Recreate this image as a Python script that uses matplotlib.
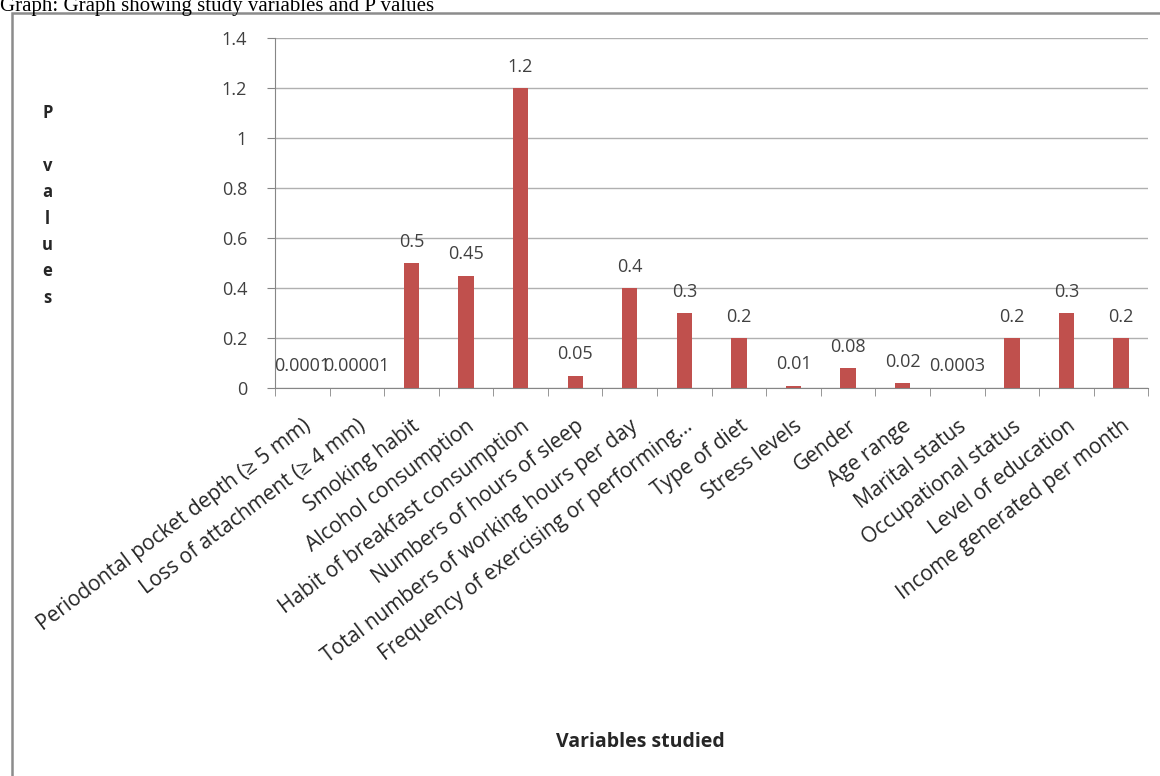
import numpy as np
import matplotlib.pyplot as plt
from matplotlib.patches import Rectangle

# study variables and their P values
variables = [
    "Periodontal pocket depth (\u2265 5 mm)",
    "Loss of attachment (\u2265 4 mm)",
    "Smoking habit",
    "Alcohol consumption",
    "Habit of breakfast consumption",
    "Numbers of hours of sleep",
    "Total numbers of working hours per day",
    "Frequency of exercising or performing\u2026",
    "Type of diet",
    "Stress levels",
    "Gender",
    "Age range",
    "Marital status",
    "Occupational status",
    "Level of education",
    "Income generated per month",
]
p_values = [0.0001, 0.00001, 0.5, 0.45, 1.2, 0.05, 0.4, 0.3, 0.2,
            0.01, 0.08, 0.02, 0.0003, 0.2, 0.3, 0.2]
p_labels = ["0.0001", "0.00001", "0.5", "0.45", "1.2", "0.05", "0.4", "0.3",
            "0.2", "0.01", "0.08", "0.02", "0.0003", "0.2", "0.3", "0.2"]
y_ticks = [0, 0.2, 0.4, 0.6, 0.8, 1, 1.2, 1.4]
y_tick_labels = ["0", "0.2", "0.4", "0.6", "0.8", "1", "1.2", "1.4"]

plt.rcParams['font.family'] = ['Open Sans', 'DejaVu Sans']

fig = plt.figure(figsize=(11.6, 7.76), dpi=100)
ax = fig.add_axes([0.237, 0.5, 0.753, 0.451])

x = np.arange(len(variables))
ax.bar(x, p_values, width=0.28, color="#C0504D", zorder=3)

for xi, v, lab in zip(x, p_values, p_labels):
    ax.annotate(lab, (xi, v), xytext=(0, 9), textcoords="offset points",
                ha="center", va="bottom", fontsize=13, color="#404040",
                zorder=4)

ax.set_xlim(-0.5, len(variables) - 0.5)
ax.set_ylim(0, 1.4)
ax.set_yticks(y_ticks)
ax.set_yticklabels(y_tick_labels, fontsize=13, color="#404040")
ax.yaxis.grid(True, color="#b0b0b0", linewidth=1)
ax.set_axisbelow(True)

ax.set_xticks(x)
ax.set_xticklabels(variables, rotation=37, ha="right", va="top",
                   rotation_mode="anchor", fontsize=15, color="#262626")
ax.set_xticks(np.arange(-0.5, len(variables)), minor=True)
ax.tick_params(axis="x", which="major", length=0, pad=20)
ax.tick_params(axis="x", which="minor", length=6, color="#868686")
ax.tick_params(axis="y", length=6, color="#868686", pad=14)

for side in ["top", "right"]:
    ax.spines[side].set_visible(False)
for side in ["left", "bottom"]:
    ax.spines[side].set_color("#868686")

fig.text(0.041, 0.866, "P\n\nv\na\nl\nu\ne\ns", ha="center", va="top",
         fontsize=12, fontweight="bold", color="#262626", linespacing=1.6)
fig.text(0.552, 0.044, "Variables studied", ha="center", va="center",
         fontsize=14, fontweight="bold", color="#262626")

# outer chart border and caption above it
fig.add_artist(Rectangle((12 / 1160, -0.05), 1.1, 1 - 13 / 776 + 0.05,
                         transform=fig.transFigure, fill=False,
                         edgecolor="#8c8c8c", linewidth=1.8))
fig.text(0.0, 1 - 11 / 776, "Graph: Graph showing study variables and P values",
         ha="left", va="baseline", fontsize=15,
         family=["Liberation Serif", "DejaVu Serif"], color="black")

fig.savefig("out.png", dpi=100)
